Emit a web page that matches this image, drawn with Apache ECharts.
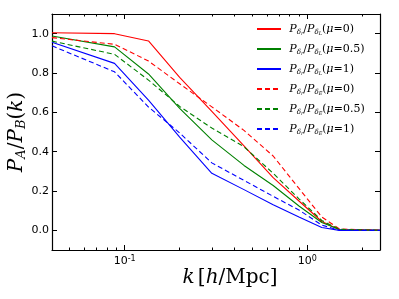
<!DOCTYPE html>
<html><head><meta charset="utf-8">
<script src="https://cdn.jsdelivr.net/npm/echarts@6/dist/echarts.min.js"></script>
<style>html,body{margin:0;padding:0;background:#fff}#c{width:399px;height:299px}</style>
</head><body><div id="c"></div>
<script>
const kValues = [0.04, 0.088, 0.135, 0.2, 0.3, 0.45, 0.65, 0.9, 1.2, 1.5, 2.5];
const redSolid    = [1.005, 1.0, 0.963, 0.778, 0.605, 0.43, 0.268, 0.149, 0.045, 0.003, 0];
const greenSolid  = [0.988, 0.933, 0.795, 0.62, 0.46, 0.33, 0.228, 0.124, 0.04, 0.004, 0];
const blueSolid   = [0.956, 0.849, 0.662, 0.474, 0.29, 0.207, 0.13, 0.068, 0.014, 0, 0];
const redDashed   = [0.98, 0.946, 0.861, 0.745, 0.628, 0.508, 0.378, 0.213, 0.068, 0.007, 0];
const greenDashed = [0.962, 0.895, 0.764, 0.63, 0.52, 0.425, 0.29, 0.16, 0.05, 0.005, 0];
const blueDashed  = [0.938, 0.806, 0.627, 0.495, 0.343, 0.254, 0.173, 0.103, 0.027, 0, 0];
const muValues = ['0', '0.5', '1', '0', '0.5', '1'];
const denomLabels = ['L', 'L', 'L', 'E', 'E', 'E'];
const seriesNames = muValues.map((m, i) => 'P_δr/P_δ' + denomLabels[i] + ' (μ=' + m + ')');
const xMajorTicks = [0.1, 1];
const xMinorTicks = [0.05, 0.06, 0.07, 0.08, 0.09, 0.2, 0.3, 0.4, 0.5, 0.6, 0.7, 0.8, 0.9, 2];
const yTicks = [0, 0.2, 0.4, 0.6, 0.8, 1.0];

const allValues = [redSolid, greenSolid, blueSolid, redDashed, greenDashed, blueDashed];
const colors = ['#ff0000', '#008000', '#0000ff', '#ff0000', '#008000', '#0000ff'];
const types = ['solid', 'solid', 'solid', [5, 3], [5, 3], [5, 3]];

const serif = 'DejaVu Serif';
const legendRich = {
  P: {fontFamily: serif, fontStyle: 'italic', fontSize: 11, lineHeight: 14, color: '#000'},
  d: {fontFamily: serif, fontStyle: 'italic', fontSize: 7, lineHeight: 9, verticalAlign: 'bottom', color: '#000'},
  s: {fontFamily: serif, fontStyle: 'italic', fontSize: 5, lineHeight: 6, verticalAlign: 'bottom', color: '#000'},
  n: {fontFamily: serif, fontSize: 11, lineHeight: 14, color: '#000'},
  m: {fontFamily: serif, fontStyle: 'italic', fontSize: 11, lineHeight: 14, color: '#000'}
};

const grid = {left: 52, top: 14, width: 328, height: 236, containLabel: false, outerBoundsMode: 'none'};
const xBase = {type: 'log', min: 0.04, max: 2.5, gridIndex: 0, splitLine: {show: false}, minorTick: {show: false}, minorSplitLine: {show: false}};
const noZero = {onZero: false};

const option = {
  animation: false,
  backgroundColor: '#fff',
  grid: grid,
  legend: {
    orient: 'vertical', left: 251, top: 18, itemWidth: 24, itemHeight: 14, itemGap: 7,
    data: seriesNames,
    itemStyle: {color: 'rgba(0,0,0,0)', borderWidth: 0, opacity: 0},
    textStyle: {rich: legendRich},
    formatter: function (name) {
      const i = seriesNames.indexOf(name);
      return ' {P|P}{d|δ}{s|r}{n|/}{P|P}{d|δ}{s|' + denomLabels[i] + '}{n|(}{m|μ}{n|=' + muValues[i] + ')}';
    }
  },
  xAxis: [
    Object.assign({}, xBase, {
      position: 'bottom',
      name: '{i|k} {n|[}{i|h}{n|/Mpc]}', nameLocation: 'middle', nameGap: 18, nameMoveOverlap: false,
      nameTextStyle: {rich: {i: {fontFamily: serif, fontStyle: 'italic', fontSize: 20, color: '#000'}, n: {fontFamily: serif, fontSize: 20, color: '#000'}}, padding: [0, 0, 0, 28]},
      axisLine: Object.assign({show: true, lineStyle: {color: '#000', width: 1.2}}, noZero),
      axisTick: {show: true, inside: true, length: 5, customValues: xMajorTicks, lineStyle: {color: '#000'}},
      axisLabel: {show: true, margin: 5, customValues: xMajorTicks,
        formatter: function (v) { return '{b|10}{sup|' + Math.round(Math.log10(v)) + '}'; },
        rich: {b: {fontFamily: 'DejaVu Sans', fontSize: 11, color: '#000', lineHeight: 13}, sup: {fontFamily: 'DejaVu Sans', fontSize: 8, color: '#000', verticalAlign: 'top', lineHeight: 8}}}
    }),
    Object.assign({}, xBase, {
      position: 'bottom',
      axisLine: Object.assign({show: false}, noZero),
      axisTick: {show: true, inside: true, length: 2.5, customValues: xMinorTicks, lineStyle: {color: '#000'}},
      axisLabel: {show: false}
    }),
    Object.assign({}, xBase, {
      position: 'top',
      axisLine: Object.assign({show: true, lineStyle: {color: '#000', width: 1.2}}, noZero),
      axisTick: {show: true, inside: true, length: 5, customValues: xMajorTicks, lineStyle: {color: '#000'}},
      axisLabel: {show: false}
    }),
    Object.assign({}, xBase, {
      position: 'top',
      axisLine: Object.assign({show: false}, noZero),
      axisTick: {show: true, inside: true, length: 2.5, customValues: xMinorTicks, lineStyle: {color: '#000'}},
      axisLabel: {show: false}
    })
  ],
  yAxis: [
    {
      type: 'value', min: -0.1, max: 1.1, position: 'left', splitLine: {show: false},
      name: '{i|P}{s|A}{n|/}{i|P}{s|B}{n|(}{i|k}{n|)}', nameLocation: 'middle', nameRotate: 90, nameGap: 24, nameMoveOverlap: false,
      nameTextStyle: {rich: {
        i: {fontFamily: serif, fontStyle: 'italic', fontSize: 20, lineHeight: 22, color: '#000'},
        s: {fontFamily: serif, fontStyle: 'italic', fontSize: 13, lineHeight: 13, verticalAlign: 'bottom', color: '#000'},
        n: {fontFamily: serif, fontSize: 20, lineHeight: 22, color: '#000'}}},
      axisLine: Object.assign({show: true, lineStyle: {color: '#000', width: 1.2}}, noZero),
      axisTick: {show: true, inside: true, length: 5, customValues: yTicks, lineStyle: {color: '#000'}},
      axisLabel: {show: true, margin: 3, customValues: yTicks, fontFamily: 'DejaVu Sans', fontSize: 11, color: '#000',
        formatter: function (v) { return v.toFixed(1); }}
    },
    {
      type: 'value', min: -0.1, max: 1.1, position: 'right', splitLine: {show: false},
      axisLine: Object.assign({show: true, lineStyle: {color: '#000', width: 1.2}}, noZero),
      axisTick: {show: true, inside: true, length: 5, customValues: yTicks, lineStyle: {color: '#000'}},
      axisLabel: {show: false}
    }
  ],
  series: allValues.map((vals, i) => ({
    name: seriesNames[i], type: 'line', xAxisIndex: 0, yAxisIndex: 0, symbol: 'none',
    data: kValues.map((k, j) => [k, vals[j]]),
    lineStyle: {color: colors[i], width: 1.1, type: types[i]},
    itemStyle: {color: colors[i]},
    z: 3
  }))
};
const chart = echarts.init(document.getElementById('c'), null, {renderer: 'canvas'});
chart.setOption(option);
</script></body></html>
